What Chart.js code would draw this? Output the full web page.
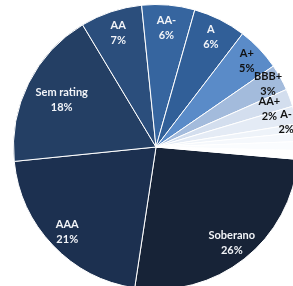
<!DOCTYPE html>
<html>
<head>
<meta charset="utf-8">
<script src="https://cdn.jsdelivr.net/npm/chart.js@4"></script>
<style>
  html, body { margin: 0; padding: 0; background: #fff; overflow: hidden; }
  body { width: 293px; height: 286px; position: relative; }
  #pie { position: absolute; left: 13px; top: 4px; }
</style>
</head>
<body>
<canvas id="pie" width="286" height="286"></canvas>
<script>
// fatias na ordem do gráfico (sentido horário)
const categories = ["Soberano", "AAA", "Sem rating", "AA", "AA-", "A", "A+", "BBB+", "AA+", "A-", "", "", "", ""];
const shares = [26, 21, 18, 7, 6, 6, 5, 3, 2, 2, 1, 1, 1, 1];

const sliceColors = ["#172337", "#1c3050", "#243f64", "#2b4e7c", "#36659f", "#315f98",
                     "#5a8bc8", "#a3bbdc", "#d3deee", "#e4ebf5", "#eef3f9", "#f5f8fc", "#fafcfe", "#ffffff"];
const labelColors = ["#f2f4f8", "#f2f4f8", "#f2f4f8", "#f2f4f8", "#f2f4f8", "#f2f4f8",
                     "#111", "#111", "#111", "#111", "#111", "#111", "#111", "#111"];
// ajuste de posição dos rótulos: [fator do raio, desvio do ângulo em graus]
const labelPlace = [[0.86, 0], [0.86, 0], [0.74, 0], [0.84, 0], [0.84, 0], [0.86, 0],
                    [0.88, 0], [0.9, 0], [0.84, 1.5], [0.93, 2], [0, 0], [0, 0], [0, 0], [0, 0]];

const sliceLabels = {
    id: "sliceLabels",
    afterDatasetsDraw(chart) {
        const ctx = chart.ctx;
        const arcs = chart.getDatasetMeta(0).data;
        ctx.save();
        ctx.font = "bold 11px Lato, 'Open Sans', sans-serif";
        ctx.textAlign = "center";
        ctx.textBaseline = "middle";
        arcs.forEach((arc, i) => {
            if (!categories[i]) return;
            const p = arc.getProps(["x", "y", "startAngle", "endAngle", "outerRadius"], true);
            const mid = (p.startAngle + p.endAngle) / 2 + labelPlace[i][1] * Math.PI / 180;
            const r = p.outerRadius * labelPlace[i][0];
            const x = p.x + Math.cos(mid) * r;
            const y = p.y + Math.sin(mid) * r;
            ctx.fillStyle = labelColors[i];
            ctx.fillText(categories[i], x, y - 7.5);
            ctx.fillText(shares[i] + "%", x, y + 7.5);
        });
        ctx.restore();
    }
};

new Chart(document.getElementById("pie"), {
    type: "pie",
    data: {
        labels: categories,
        datasets: [{
            data: shares,
            backgroundColor: sliceColors,
            borderColor: "#ffffff",
            borderWidth: 1
        }]
    },
    options: {
        responsive: false,
        animation: false,
        rotation: 95,
        layout: { padding: 0 },
        plugins: {
            legend: { display: false },
            tooltip: { enabled: false },
            title: { display: false }
        }
    },
    plugins: [sliceLabels]
});
</script>
</body>
</html>
